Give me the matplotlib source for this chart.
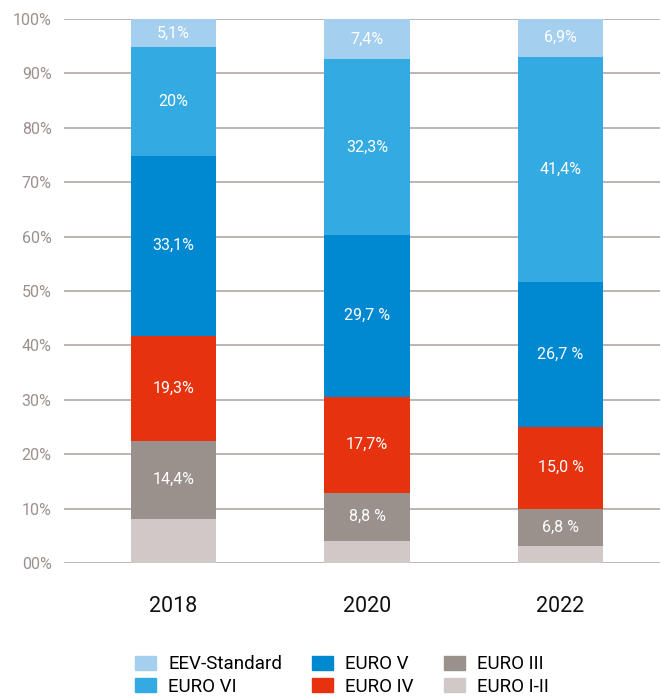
import numpy as np
import matplotlib.pyplot as plt
from matplotlib.patches import Patch

plt.rcParams['font.family'] = ['Roboto', 'DejaVu Sans']

years = ["2018", "2020", "2022"]
# stacked from bottom to top
euro_1_2 = [8.1, 4.1, 3.2]
euro_3 = [14.4, 8.8, 6.8]
euro_4 = [19.3, 17.7, 15.0]
euro_5 = [33.1, 29.7, 26.7]
euro_6 = [20.0, 32.3, 41.4]
eev = [5.1, 7.4, 6.9]

lab_3 = ["14,4%", "8,8 %", "6,8 %"]
lab_4 = ["19,3%", "17,7%", "15,0 %"]
lab_5 = ["33,1%", "29,7 %", "26,7 %"]
lab_6 = ["20%", "32,3%", "41,4%"]
lab_eev = ["5,1%", "7,4%", "6,9%"]

series = [
    ("EURO I-II", euro_1_2, "#d1c9c8", None),
    ("EURO III", euro_3, "#9b918c", lab_3),
    ("EURO IV", euro_4, "#e6320e", lab_4),
    ("EURO V", euro_5, "#0088d1", lab_5),
    ("EURO VI", euro_6, "#34aae2", lab_6),
    ("EEV-Standard", eev, "#a4cfef", lab_eev),
]

fig = plt.figure(figsize=(6.62, 6.97), dpi=100)
ax = fig.add_axes([0.0967, 0.1923, 0.9003, 0.7804])

x = np.arange(len(years))
bottom = np.zeros(len(years))
for name, vals, col, labs in series:
    vals = np.array(vals)
    ax.bar(x, vals, bottom=bottom, width=0.44, color=col, zorder=3)
    if labs:
        for xi, b, v, t in zip(x, bottom, vals, labs):
            ax.text(xi, b + v / 2, t, ha="center", va="center",
                    color="white", fontsize=11.5, zorder=4)
    bottom += vals

ax.set_ylim(0, 100)
ax.set_xlim(-0.566, 2.514)
ax.set_yticks(np.arange(0, 101, 10))
ax.set_yticklabels(["00%"] + [f"{v}%" for v in range(10, 101, 10)])
ax.set_xticks(x)
ax.set_xticklabels(years, fontsize=15.5, color="#111111")
ax.tick_params(axis="x", length=0, pad=24)
ax.tick_params(axis="y", length=0, pad=9, labelsize=11.5, labelcolor="#9b918c")
ax.yaxis.grid(True, color="#b0a8a4", linewidth=1.2, zorder=0)
for s in ax.spines.values():
    s.set_visible(False)

handles = [Patch(color=col, label=name) for name, vals, col, labs in series[::-1]]
fig.legend(handles=handles, ncol=3, loc="center left", bbox_to_anchor=(0.204, 0.031),
           frameon=False, fontsize=13.5, handlelength=1.12, handleheight=0.75,
           columnspacing=1.6, labelspacing=0.23, handletextpad=0.64,
           borderpad=0, borderaxespad=0)

fig.savefig("out.png", dpi=100)
